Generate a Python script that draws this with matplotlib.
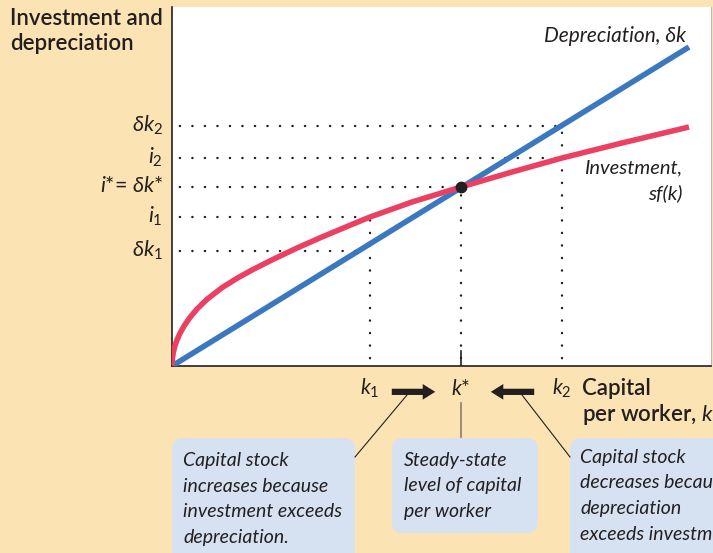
import numpy as np
import matplotlib.pyplot as plt
from matplotlib.patches import FancyBboxPatch, FancyArrowPatch
import matplotlib.transforms as mtrans

plt.rcParams['font.family'] = ['Lato', 'Noto Sans', 'DejaVu Sans']
plt.rcParams['mathtext.fontset'] = 'custom'
plt.rcParams['mathtext.rm'] = 'Lato'
plt.rcParams['mathtext.it'] = 'Lato:italic'
plt.rcParams['mathtext.bf'] = 'Lato:bold'
plt.rcParams['mathtext.fallback'] = 'stixsans'

# capital per worker (k) and the two schedules
inv_k = [0, 0.002, 0.006, 0.015, 0.03, 0.05, 0.08, 0.12, 0.18, 0.25, 0.35, 0.5,
         0.65, 0.8, 1.0, 1.25, 1.5, 1.75, 1.98, 2.4, 2.89, 3.4, 3.9, 4.5, 5.17]
inv_y = [0, 0.052, 0.091, 0.144, 0.202, 0.26, 0.327, 0.399, 0.486, 0.57, 0.667, 0.783,
         0.877, 0.96, 1.061, 1.18, 1.29, 1.395, 1.49, 1.64, 1.79, 1.94, 2.08, 2.23, 2.39]
dep_k = [0, 5.17]
dep_y = [0, 3.19]

k1, kstar, k2 = 1.98, 2.89, 3.90
dk2, i2, istar, i1, dk1 = 2.40, 2.08, 1.79, 1.49, 1.15

ylevels = [dk2, i2, istar, i1, dk1]
ylabels = [r'$\delta k_2$', r'$i_2$', r'$i$*= $\delta k$*', r'$i_1$', r'$\delta k_1$']
xticks = [k1, kstar, k2]
xlabels = [r'$k_1$', r'$k$*', r'$k_2$']

BG = '#FCE3B4'
RED = '#EC4062'
BLUE = '#3B78C0'
INK = '#231F20'
BOX = '#D6E2F2'

W, H = 713, 553
fig = plt.figure(figsize=(W / 100, H / 100), dpi=100, facecolor=BG)
ax = fig.add_axes([172 / W, (H - 366) / H, 539 / W, 359 / H])
ax.set_xlim(0, 5.39)
ax.set_ylim(0, 3.59)
ax.set_facecolor('white')
ax.set_xticks([])
ax.set_yticks([])
ax.spines['top'].set_visible(False)
ax.spines['right'].set_color('#BBBBBB')
ax.spines['right'].set_linewidth(0.8)
ax.spines['left'].set_color(INK)
ax.spines['left'].set_linewidth(1.2)
ax.spines['bottom'].set_color(INK)
ax.spines['bottom'].set_linewidth(1.2)

# dotted guide lines
dot = dict(color=INK, lw=1.7, linestyle=(2, (0.1, 5.2)), dash_capstyle='round', zorder=1)
slope = dep_y[-1] / dep_k[-1]
h_ends = [k2, k2, kstar, k1, dk1 / slope]
for lev, xe in zip(ylevels, h_ends):
    ax.plot([0, xe], [lev, lev], **dot)
for kk, ye in zip(xticks, [i1, istar, dk2]):
    ax.plot([kk, kk], [0, ye], **dot)
ax.plot([kstar, kstar], [0, 0.15], color=INK, lw=1.2, zorder=1)

ax.plot(dep_k, dep_y, color=BLUE, lw=4.0, solid_capstyle='butt', zorder=3)
ax.plot(inv_k, inv_y, color=RED, lw=4.0, solid_capstyle='butt',
        solid_joinstyle='round', zorder=4)
ax.plot([kstar], [istar], 'o', color=INK, ms=7.5, zorder=5)

# axis labels
ytr = mtrans.blended_transform_factory(ax.transAxes, ax.transData)
for lev, lab in zip(ylevels, ylabels):
    ax.text(-0.017, lev - 0.055, lab, transform=ytr, ha='right', va='baseline',
            fontsize=15.5, color=INK)
for kk, lab in zip(xticks, xlabels):
    ax.text(kk, -0.081, lab, transform=ax.get_xaxis_transform(), ha='center',
            va='baseline', fontsize=15, color=INK)

arr = dict(arrowstyle='simple,head_length=0.6,head_width=0.75,tail_width=0.3',
           mutation_scale=15, color=INK, lw=0, transform=ax.get_xaxis_transform(),
           clip_on=False)
ax.add_patch(FancyArrowPatch((k1 + 0.19, -0.072), (kstar - 0.23, -0.072), **arr))
ax.add_patch(FancyArrowPatch((k2 - 0.25, -0.072), (kstar + 0.27, -0.072), **arr))

# overlay in pixel coordinates for titles and callouts
ov = fig.add_axes([0, 0, 1, 1], zorder=3)
ov.set_xlim(0, W)
ov.set_ylim(H, 0)
ov.axis('off')

ov.text(10, 25, 'Investment and', fontsize=16, weight='semibold', color=INK, va='baseline')
ov.text(10, 50, 'depreciation', fontsize=16, weight='semibold', color=INK, va='baseline')
ov.text(582, 395, 'Capital', fontsize=16, weight='semibold', color=INK, va='baseline')
ov.text(582, 421, r'per worker, $k$', fontsize=16, weight='semibold', color=INK, va='baseline')

ov.text(686, 42, 'Depreciation, δk', fontsize=15, style='italic', color=INK,
        ha='right', va='baseline')
ov.text(682, 173, 'Investment,', fontsize=14.5, style='italic', color=INK,
        ha='right', va='baseline')
ov.text(683, 199, 'sf(k)', fontsize=14.5, style='italic', color=INK,
        ha='right', va='baseline')

boxes = [
    (172, 438, 183, 130, 183, 466,
     ['Capital stock', 'increases because', 'investment exceeds', 'depreciation.']),
    (392, 438, 146, 95, 404, 466,
     ['Steady-state', 'level of capital', 'per worker']),
    (570, 438, 160, 130, 580, 463,
     ['Capital stock', 'decreases because', 'depreciation', 'exceeds investment.']),
]
for bx, by, bw, bh, tx, ty, lines in boxes:
    ov.add_patch(FancyBboxPatch((bx, by), bw, bh, boxstyle='round,pad=0,rounding_size=11',
                                fc=BOX, ec='none'))
    for j, line in enumerate(lines):
        ov.text(tx, ty + j * 25.5, line, fontsize=14, style='italic', color=INK,
                va='baseline')

ov.plot([355, 407], [457, 395], color=INK, lw=0.8)
ov.plot([461, 461], [403, 437], color='#8A7A6A', lw=1.2)
ov.plot([570, 522], [457, 395], color=INK, lw=0.8)

fig.savefig('out.png', dpi=100, facecolor=BG)
